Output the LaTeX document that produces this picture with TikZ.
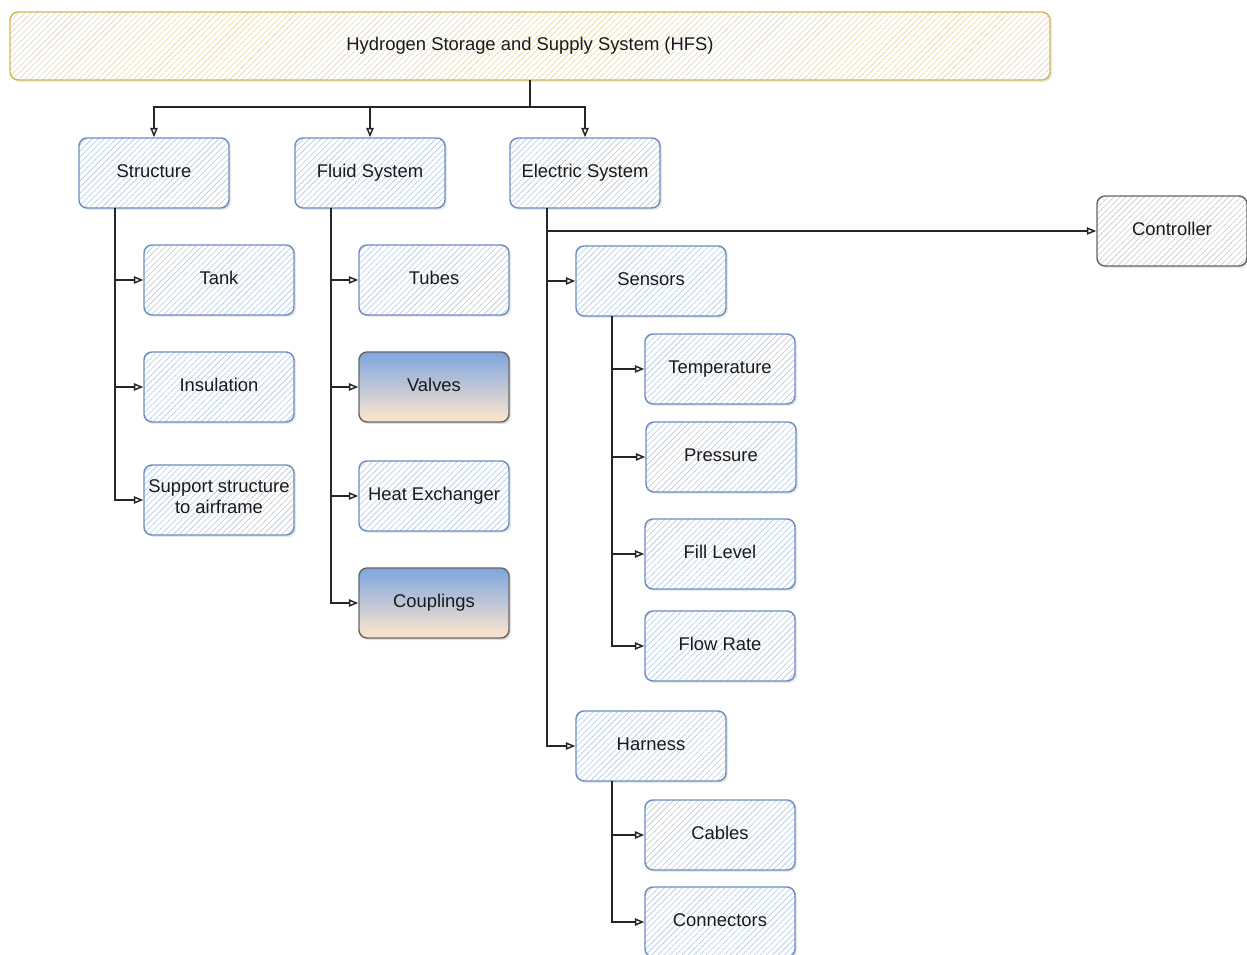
\documentclass[tikz,border=0pt]{standalone}
\usepackage{fontspec}
\setmainfont{Liberation Sans}
\usetikzlibrary{arrows.meta,patterns.meta,shadows}
\definecolor{bluebd}{HTML}{6C8EBF}
\definecolor{bluehatch}{HTML}{B4C7E2}
\definecolor{yellowbd}{HTML}{D6B656}
\definecolor{yellowhatch}{HTML}{E6D5A6}
\definecolor{greybd}{HTML}{666666}
\definecolor{greyhatch}{HTML}{C8C8C8}
\definecolor{gradtop}{HTML}{7EA6E0}
\definecolor{gradbot}{HTML}{FFE6CC}
\definecolor{txt}{HTML}{1A1A1A}
\definecolor{wire}{HTML}{262626}

\tikzset{
  box/.style={rounded corners=6pt, draw=bluebd, line width=1.1pt,
    minimum width=112.5pt, minimum height=52.5pt, align=center,
    drop shadow={opacity=0.18,shadow xshift=1.5pt,shadow yshift=-1.5pt},
    preaction={fill=white},
    pattern={Lines[angle=45,distance=3.2pt,line width=0.45pt]}, pattern color=bluehatch},
  topbox/.style={box, draw=yellowbd, pattern color=yellowhatch,
    minimum width=780pt, minimum height=51pt},
  greybox/.style={box, draw=greybd, pattern color=greyhatch},
  gradbox/.style={rounded corners=6pt, draw=greybd, line width=1.1pt,
    minimum width=112.5pt, minimum height=52.5pt, align=center,
    drop shadow={opacity=0.25,shadow xshift=1.5pt,shadow yshift=-1.5pt},
    top color=gradtop, bottom color=gradbot},
  link/.style={draw=wire, line width=1.1pt},
  arrow/.style={link, -{Triangle[open,length=7pt,width=5.5pt]}},
}

\begin{document}
\begin{tikzpicture}[x=0.75pt,y=-0.75pt,every node/.style={font=\fontsize{13.8}{16}\selectfont, text=txt, execute at begin node=\strut}]
\useasboundingbox (0,0) rectangle (1247,955);

% top level
\node[topbox] (hfs) at (530,46) {Hydrogen Storage and Supply System (HFS)};

% subsystems
\node[box] (struct) at (154,173) {Structure};
\node[box] (fluid) at (370,173) {Fluid System};
\node[box] (elec) at (585,173) {Electric System};
\node[greybox] (ctrl) at (1172,231) {Controller};

% structure parts
\node[box] (tank) at (219,280) {Tank};
\node[box] (insul) at (219,387) {Insulation};
\node[box] (support) at (219,500) {Support structure\\to airframe};

% fluid parts
\node[box] (tubes) at (434,280) {Tubes};
\node[gradbox] (valves) at (434,387) {Valves};
\node[box] (heatex) at (434,496) {Heat Exchanger};
\node[gradbox] (coupl) at (434,603) {Couplings};

% electric parts
\node[box] (sensors) at (651,281) {Sensors};
\node[box] (temp) at (720,369) {Temperature};
\node[box] (press) at (721,457) {Pressure};
\node[box] (filllvl) at (720,554) {Fill Level};
\node[box] (flow) at (720,646) {Flow Rate};
\node[box] (harness) at (651,746) {Harness};
\node[box] (cables) at (720,835) {Cables};
\node[box] (conn) at (720,922) {Connectors};

% branch points
\coordinate (bus) at (530,107);
\coordinate (sbus) at (115,208);
\coordinate (fbus) at (331,208);
\coordinate (ebus) at (547,208);
\coordinate (snbus) at (612,316);
\coordinate (hbus) at (612,781);

\draw[link] (hfs) -- (bus);
\draw[arrow] (bus) -| (struct);
\draw[arrow] (bus) -| (fluid);
\draw[arrow] (bus) -| (elec);

\draw[arrow] (sbus) |- (tank);
\draw[arrow] (sbus) |- (insul);
\draw[arrow] (sbus) |- (support);

\draw[arrow] (fbus) |- (tubes);
\draw[arrow] (fbus) |- (valves);
\draw[arrow] (fbus) |- (heatex);
\draw[arrow] (fbus) |- (coupl);

\draw[arrow] (ebus) |- (ctrl);
\draw[arrow] (ebus) |- (sensors);
\draw[arrow] (ebus) |- (harness);

\draw[arrow] (snbus) |- (temp);
\draw[arrow] (snbus) |- (press);
\draw[arrow] (snbus) |- (filllvl);
\draw[arrow] (snbus) |- (flow);

\draw[arrow] (hbus) |- (cables);
\draw[arrow] (hbus) |- (conn);
\end{tikzpicture}
\end{document}
